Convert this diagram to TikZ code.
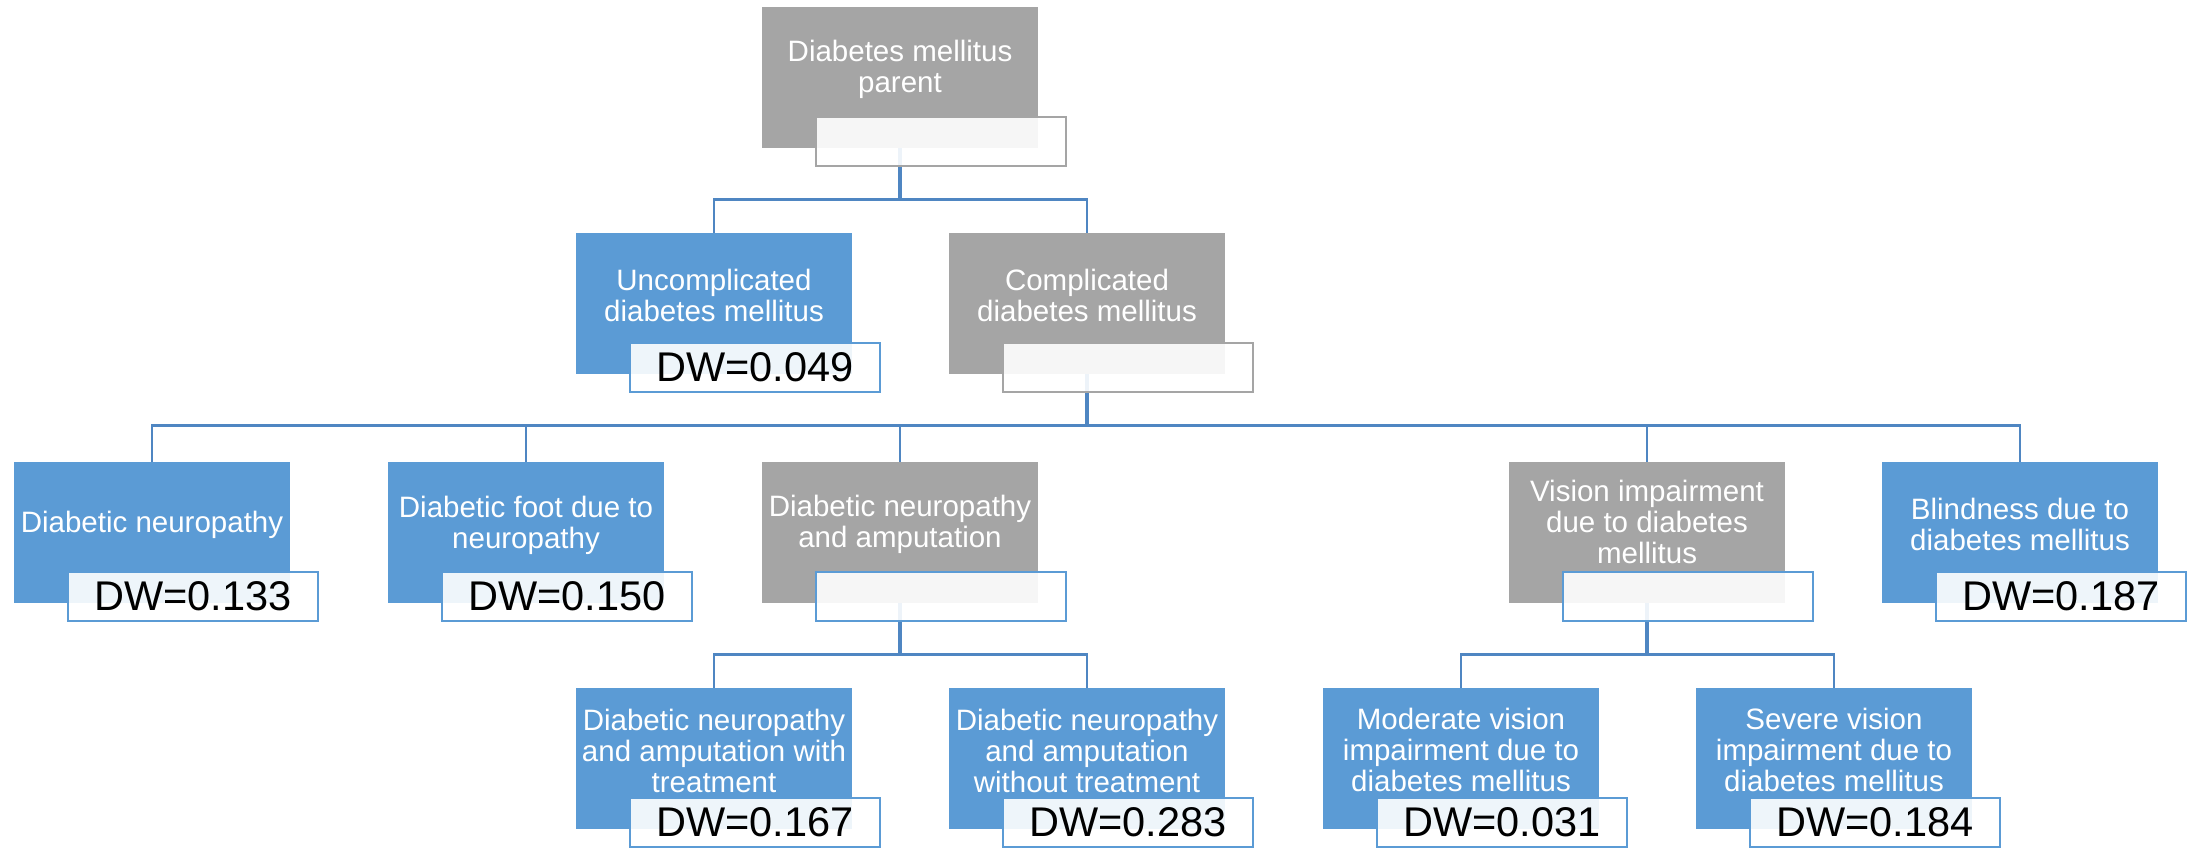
\documentclass[tikz,border=0pt]{standalone}
\usepackage{fontspec}
\setmainfont{Liberation Sans}
\definecolor{bl}{HTML}{5B9BD5}
\definecolor{gr}{HTML}{A5A5A5}
\definecolor{ln}{HTML}{4F86C2}
\tikzset{
 box/.style={minimum width=276pt, minimum height=141pt, inner sep=0pt, draw=none, anchor=north},
 bluebox/.style={box, fill=bl},
 greybox/.style={box, fill=gr},
 txt/.style={text=white, font=\fontsize{29.5}{31}\selectfont, align=center, inner sep=0pt},
 lab/.style={minimum width=250pt, minimum height=49pt, inner sep=0pt, fill=white, fill opacity=0.9, text opacity=1, line width=2pt, font=\fontsize{41.5}{44}\selectfont},
 labb/.style={lab, draw=bl},
 labg/.style={lab, draw=gr},
 conn/.style={draw=ln, line width=2.2pt},
 pdrop/.style={draw=ln, line width=3.4pt},
}
\begin{document}
\begin{tikzpicture}[x=1pt,y=-1pt]
\useasboundingbox (0,0) rectangle (2199,848);
% boxes
\node[greybox] (dm) at (900,7) {};
\node[bluebox] (unc) at (714,233) {};
\node[greybox] (comp) at (1087,233) {};
\node[bluebox] (neu) at (152,462) {};
\node[bluebox] (foot) at (526,462) {};
\node[greybox] (amp) at (900,462) {};
\node[greybox] (vis) at (1647,462) {};
\node[bluebox] (blind) at (2020,462) {};
\node[bluebox] (ampw) at (714,688) {};
\node[bluebox] (ampwo) at (1087,688) {};
\node[bluebox] (mod) at (1461,688) {};
\node[bluebox] (sev) at (1834,688) {};
% connectors
\foreach \c in {unc,comp} {\draw[conn] (dm.south) -- ++(0,51) -| (\c.north);}
\draw[pdrop] (dm.south) -- ++(0,51);
\foreach \c in {neu,foot,amp,vis,blind} {\draw[conn] (comp.south) -- ++(0,51) -| (\c.north);}
\draw[pdrop] (comp.south) -- ++(0,51);
\foreach \c in {ampw,ampwo} {\draw[conn] (amp.south) -- ++(0,51) -| (\c.north);}
\draw[pdrop] (amp.south) -- ++(0,51);
\foreach \c in {mod,sev} {\draw[conn] (vis.south) -- ++(0,51) -| (\c.north);}
\draw[pdrop] (vis.south) -- ++(0,51);
% texts
\node[txt] (dmt) at (900,69) {Diabetes mellitus\\parent};
\node[txt] (unct) at (714,295) {Uncomplicated\\diabetes mellitus};
\node[txt] (compt) at (1087,295) {Complicated\\diabetes mellitus};
\node[txt] (neut) at (152,525) {Diabetic neuropathy};
\node[txt] (foott) at (526,525) {Diabetic foot due to\\neuropathy};
\node[txt] (ampt) at (900,524) {Diabetic neuropathy\\and amputation};
\node[txt] (vist) at (1647,522) {Vision impairment\\due to diabetes\\mellitus};
\node[txt] (blindt) at (2020,524) {Blindness due to\\diabetes mellitus};
\node[txt] (ampwt) at (714,751) {Diabetic neuropathy\\and amputation with\\treatment};
\node[txt] (ampwot) at (1087,751) {Diabetic neuropathy\\and amputation\\without treatment};
\node[txt] (modt) at (1461,750) {Moderate vision\\impairment due to\\diabetes mellitus};
\node[txt] (sevt) at (1834,750) {Severe vision\\impairment due to\\diabetes mellitus};
% labels
\node[labg] (dml) at (941,141.5) {};
\node[labb] (uncl) at (755,367.5) {DW=0.049};
\node[labg] (compl) at (1128,367.5) {};
\node[labb] (neul) at (193,596.5) {DW=0.133};
\node[labb] (footl) at (567,596.5) {DW=0.150};
\node[labb] (ampl) at (941,596.5) {};
\node[labb] (visl) at (1688,596.5) {};
\node[labb] (blindl) at (2061,596.5) {DW=0.187};
\node[labb] (ampwl) at (755,822.5) {DW=0.167};
\node[labb] (ampwol) at (1128,822.5) {DW=0.283};
\node[labb] (modl) at (1502,822.5) {DW=0.031};
\node[labb] (sevl) at (1875,822.5) {DW=0.184};
\end{tikzpicture}
\end{document}
